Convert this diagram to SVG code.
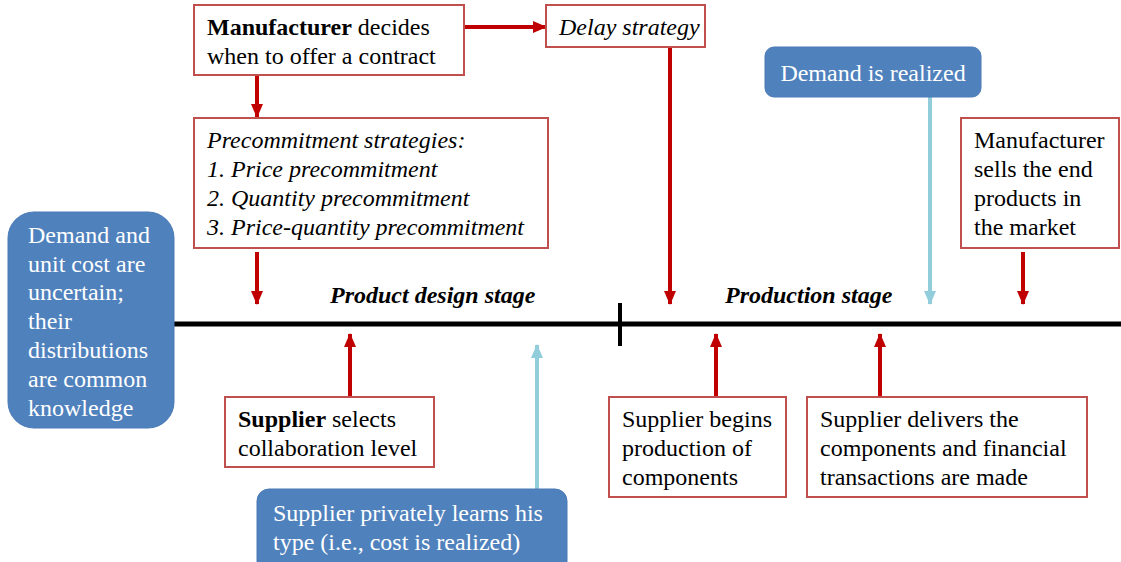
<svg xmlns="http://www.w3.org/2000/svg" width="1121" height="562" viewBox="0 0 1121 562">
  <style>
    .box { fill: #ffffff; stroke: #c0504d; stroke-width: 2; }
    .blue { fill: #4f81bd; stroke: #4a7ab5; stroke-width: 1; }
    .t { font-family: "Liberation Serif", "Times New Roman", serif; font-size: 24px; fill: #000; }
    .w { fill: #ffffff; }
    .i { font-style: italic; }
    .b { font-weight: bold; }
    .stage { font-family: "Liberation Serif", "Times New Roman", serif; font-size: 24px; font-weight: bold; font-style: italic; fill: #000; }
    .red { stroke: #c00000; stroke-width: 4; fill: none; marker-end: url(#ahRed); }
    .lb { stroke: #92cddc; stroke-width: 4; fill: none; marker-end: url(#ahBlue); }
  </style>
  <defs>
    <marker id="ahRed" markerUnits="userSpaceOnUse" markerWidth="14" markerHeight="14" viewBox="0 0 14 14" refX="13" refY="7" orient="auto">
      <path d="M0,1 L14,7 L0,13 Z" fill="#c00000"/>
    </marker>
    <marker id="ahBlue" markerUnits="userSpaceOnUse" markerWidth="14" markerHeight="14" viewBox="0 0 14 14" refX="13" refY="7" orient="auto">
      <path d="M0,1 L14,7 L0,13 Z" fill="#92cddc"/>
    </marker>
  </defs>

  <!-- timeline -->
  <g id="timeline">
    <line x1="173" y1="324" x2="1121" y2="324" stroke="#000" stroke-width="5"/>
    <line x1="620" y1="303" x2="620" y2="346" stroke="#000" stroke-width="4"/>
    <text class="stage" x="330" y="303">Product design stage</text>
    <text class="stage" x="725" y="303">Production stage</text>
  </g>

  <!-- connectors -->
  <g id="connectors">
    <line class="red" x1="464" y1="27" x2="546" y2="27"/>
    <line class="red" x1="257" y1="76" x2="257" y2="117"/>
    <line class="red" x1="257" y1="252" x2="257" y2="304"/>
    <line class="red" x1="670" y1="48" x2="670" y2="304"/>
    <line class="lb" x1="930" y1="97" x2="930" y2="304"/>
    <line class="red" x1="1023" y1="252" x2="1023" y2="304"/>
    <line class="red" x1="350" y1="397" x2="350" y2="334"/>
    <line class="lb" x1="537" y1="489" x2="537" y2="345"/>
    <line class="red" x1="716" y1="397" x2="716" y2="334"/>
    <line class="red" x1="880" y1="397" x2="880" y2="334"/>
  </g>

  <g id="manufacturer-decides">
    <rect class="box" x="194" y="5" width="270" height="70"/>
    <text class="t" x="207" y="35"><tspan class="b">Manufacturer</tspan> decides</text>
    <text class="t" x="207" y="64">when to offer a contract</text>
  </g>

  <g id="precommitment">
    <rect class="box" x="194" y="118" width="354" height="130"/>
    <text class="t i" x="207" y="148">Precommitment strategies:</text>
    <text class="t i" x="207" y="177">1. Price precommitment</text>
    <text class="t i" x="207" y="206">2. Quantity precommitment</text>
    <text class="t i" x="207" y="235">3. Price-quantity precommitment</text>
  </g>

  <g id="delay-strategy">
    <rect class="box" x="546" y="5" width="159" height="42"/>
    <text class="t i" x="559" y="35">Delay strategy</text>
  </g>

  <g id="demand-realized">
    <rect class="blue" x="765" y="47" width="216" height="50" rx="9"/>
    <text class="t w" x="873" y="81" text-anchor="middle">Demand is realized</text>
  </g>

  <g id="manufacturer-sells">
    <rect class="box" x="961" y="118" width="158" height="130"/>
    <text class="t" x="974" y="148">Manufacturer</text>
    <text class="t" x="974" y="177">sells the end</text>
    <text class="t" x="974" y="206">products in</text>
    <text class="t" x="974" y="235">the market</text>
  </g>

  <g id="uncertainty">
    <rect class="blue" x="8" y="212" width="166" height="216" rx="26"/>
    <text class="t w" x="28" y="243">Demand and</text>
    <text class="t w" x="28" y="272">unit cost are</text>
    <text class="t w" x="28" y="300">uncertain;</text>
    <text class="t w" x="28" y="329">their</text>
    <text class="t w" x="28" y="358">distributions</text>
    <text class="t w" x="28" y="387">are common</text>
    <text class="t w" x="28" y="416">knowledge</text>
  </g>

  <g id="supplier-selects">
    <rect class="box" x="225" y="397" width="209" height="70"/>
    <text class="t" x="238" y="427"><tspan class="b">Supplier</tspan> selects</text>
    <text class="t" x="238" y="456">collaboration level</text>
  </g>

  <g id="supplier-learns">
    <rect class="blue" x="257" y="489" width="310" height="84" rx="12"/>
    <text class="t w" x="273" y="521">Supplier privately learns his</text>
    <text class="t w" x="273" y="550">type (i.e., cost is realized)</text>
  </g>

  <g id="supplier-begins">
    <rect class="box" x="609" y="397" width="177" height="100"/>
    <text class="t" x="622" y="427">Supplier begins</text>
    <text class="t" x="622" y="456">production of</text>
    <text class="t" x="622" y="485">components</text>
  </g>

  <g id="supplier-delivers">
    <rect class="box" x="807" y="397" width="280" height="100"/>
    <text class="t" x="820" y="427">Supplier delivers the</text>
    <text class="t" x="820" y="456">components and financial</text>
    <text class="t" x="820" y="485">transactions are made</text>
  </g>
</svg>
